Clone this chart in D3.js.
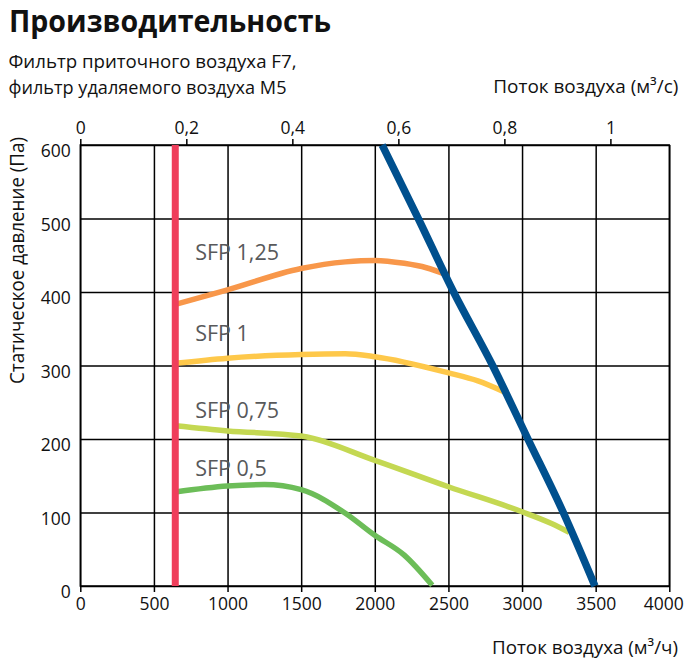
<!DOCTYPE html>
<html>
<head>
<meta charset="utf-8">
<script src="https://cdn.jsdelivr.net/npm/d3@7"></script>
<style>
  body { margin: 0; background: #fff; }
  svg { display: block; font-family: "Open Sans", sans-serif; }
</style>
</head>
<body>
<svg id="chart" width="694" height="668"></svg>
<script>
// values: [поток м³/ч, давление Па]
const flowTicks = [0, 500, 1000, 1500, 2000, 2500, 3000, 3500, 4000];
const pressureTicks = [0, 100, 200, 300, 400, 500, 600];
const flowSecTicks = [0, 0.2, 0.4, 0.6, 0.8, 1];

const sfpNames = ['SFP 1,25', 'SFP 1', 'SFP 0,75', 'SFP 0,5'];
const sfp125 = [[645, 383], [1000, 403], [1500, 432], [1800, 441], [2000, 443], [2200, 439], [2350, 433], [2480, 424]];
const sfp1 = [[645, 303], [1000, 310], [1500, 315], [1800, 316], [2000, 312], [2500, 290], [2700, 279], [2880, 264]];
const sfp075 = [[645, 218], [1000, 211], [1500, 204], [2000, 171], [2500, 135], [3000, 101], [3200, 85], [3320, 73]];
const sfp05 = [[645, 128], [1000, 136], [1250, 138], [1500, 131], [1800, 99], [2000, 69], [2200, 42], [2390, 1]];
// label anchors (поток, давление)
const sfpLabelAt = [[780, 443], [780, 334], [780, 228], [780, 149]];

const minFlow = [[645, 0], [645, 600]];
const maxFlow = [[2050, 600], [2295, 500], [2535, 400], [2800, 300], [3040, 200], [3280, 100], [3495, 0]];

const svg = d3.select('#chart');
const plotLeft = 80.3, plotRight = 669.3, plotTop = 145, plotBottom = 586;

const x = d3.scaleLinear().domain([0, 4000]).range([plotLeft, plotRight]);
const xs = d3.scaleLinear().domain([0, 4000 / 3600]).range([plotLeft, plotRight]);
const y = d3.scaleLinear().domain([0, 600]).range([plotBottom, plotTop]);

// titles
svg.append('text').text('Производительность')
  .attr('x', 9).attr('y', 32.3)
  .attr('font-size', 30).attr('font-weight', 700).attr('fill', '#111')
  .attr('textLength', 322).attr('lengthAdjust', 'spacingAndGlyphs');
svg.append('text').text('Фильтр приточного воздуха F7,')
  .attr('x', 8.5).attr('y', 67.5)
  .attr('font-size', 19).attr('fill', '#111')
  .attr('textLength', 288).attr('lengthAdjust', 'spacingAndGlyphs');
svg.append('text').text('фильтр удаляемого воздуха M5')
  .attr('x', 8.5).attr('y', 93.5)
  .attr('font-size', 19).attr('fill', '#111')
  .attr('textLength', 278).attr('lengthAdjust', 'spacingAndGlyphs');
svg.append('text').text('Поток воздуха (м³/с)')
  .attr('x', 493.3).attr('y', 93.3)
  .attr('font-size', 19).attr('fill', '#111')
  .attr('textLength', 185).attr('lengthAdjust', 'spacingAndGlyphs');
svg.append('text').text('Поток воздуха (м³/ч)')
  .attr('x', 492).attr('y', 654)
  .attr('font-size', 19).attr('fill', '#111')
  .attr('textLength', 186).attr('lengthAdjust', 'spacingAndGlyphs');
svg.append('text').text('Статическое давление (Па)')
  .attr('transform', `translate(23.5,${(137 + 384) / 2}) rotate(-90)`)
  .attr('text-anchor', 'middle')
  .attr('font-size', 19.5).attr('fill', '#111')
  .attr('textLength', 247).attr('lengthAdjust', 'spacingAndGlyphs');

// grid
svg.append('g').attr('class', 'grid-x')
  .attr('transform', `translate(0,${plotBottom})`)
  .call(d3.axisBottom(x).tickValues(flowTicks).tickSize(-(plotBottom - plotTop)).tickFormat(''))
  .call(g => g.select('.domain').remove())
  .call(g => g.selectAll('line').attr('stroke', '#000').attr('stroke-width', 1.5));
svg.append('g').attr('class', 'grid-y')
  .attr('transform', `translate(${plotLeft},0)`)
  .call(d3.axisLeft(y).tickValues(pressureTicks).tickSize(-(plotRight - plotLeft)).tickFormat(''))
  .call(g => g.select('.domain').remove())
  .call(g => g.selectAll('line').attr('stroke', '#000').attr('stroke-width', 1.5));
svg.append('rect')
  .attr('x', plotLeft).attr('y', plotTop)
  .attr('width', plotRight - plotLeft).attr('height', plotBottom - plotTop)
  .attr('fill', 'none').attr('stroke', '#000').attr('stroke-width', 1.5);

// axes
svg.append('g').attr('class', 'x-axis')
  .attr('transform', `translate(0,${plotBottom})`)
  .call(d3.axisBottom(x).tickValues(flowTicks).tickSizeInner(6).tickSizeOuter(0).tickPadding(6).tickFormat(d => d))
  .call(g => g.select('.domain').remove())
  .call(g => g.selectAll('line').attr('stroke', '#000').attr('stroke-width', 1.5))
  .call(g => g.selectAll('text').attr('font-size', 17.5).attr('font-family', '"Open Sans", sans-serif').attr('fill', '#111'))
  .call(g => g.selectAll('text').filter(d => d === 4000).attr('dx', -6));
svg.append('g').attr('class', 'x2-axis')
  .attr('transform', `translate(0,${plotTop})`)
  .call(d3.axisTop(xs).tickValues(flowSecTicks).tickSizeInner(6).tickSizeOuter(0).tickPadding(5)
    .tickFormat(d => String(d).replace('.', ',')))
  .call(g => g.select('.domain').remove())
  .call(g => g.selectAll('line').attr('stroke', '#000').attr('stroke-width', 1.5))
  .call(g => g.selectAll('text').attr('font-size', 17.5).attr('font-family', '"Open Sans", sans-serif').attr('fill', '#111'));
svg.append('g').attr('class', 'y-axis')
  .attr('transform', `translate(${plotLeft},0)`)
  .call(d3.axisLeft(y).tickValues(pressureTicks).tickSize(0).tickPadding(9.5))
  .call(g => g.select('.domain').remove())
  .call(g => g.selectAll('text').attr('dy', '0.66em').attr('font-size', 17.5)
    .attr('font-family', '"Open Sans", sans-serif').attr('fill', '#111'));

// curves
const line = d3.line().x(d => x(d[0])).y(d => y(d[1])).curve(d3.curveMonotoneX);
const curves = [
  { data: sfp125, color: '#f8974a' },
  { data: sfp1, color: '#fec84a' },
  { data: sfp075, color: '#c4d852' },
  { data: sfp05, color: '#6cbd58' }
];
svg.append('g').attr('class', 'curves')
  .selectAll('path')
  .data(curves)
  .join('path')
  .attr('d', d => line(d.data))
  .attr('fill', 'none')
  .attr('stroke', d => d.color)
  .attr('stroke-width', 5.5);

svg.append('path')
  .attr('d', d3.line().x(d => x(d[0])).y(d => y(d[1]))(minFlow))
  .attr('stroke', '#ef3e5b').attr('stroke-width', 7).attr('fill', 'none');
svg.append('path')
  .attr('d', line(maxFlow))
  .attr('stroke', '#00508e').attr('stroke-width', 7.5).attr('fill', 'none');

// SFP labels
svg.append('g').attr('class', 'sfp-labels')
  .selectAll('text')
  .data(sfpNames)
  .join('text')
  .attr('x', (d, i) => x(sfpLabelAt[i][0]))
  .attr('y', (d, i) => y(sfpLabelAt[i][1]))
  .attr('font-size', 21.5)
  .attr('fill', '#58595b')
  .text(d => d);
</script>
</body>
</html>
